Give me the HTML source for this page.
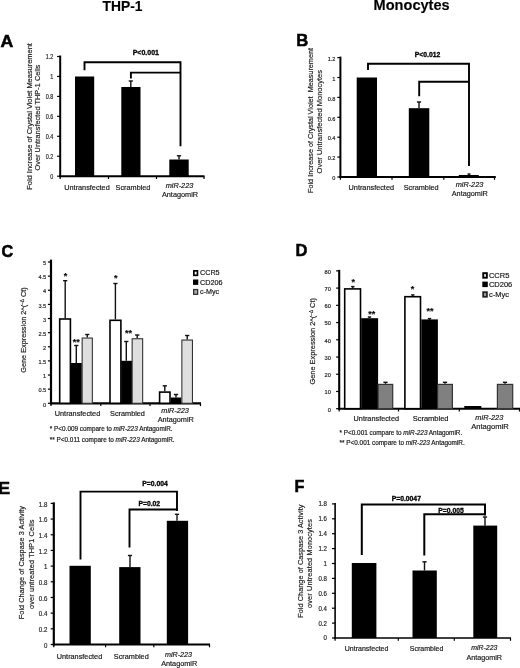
<!DOCTYPE html>
<html lang="en"><head><meta charset="utf-8"><title>Figure</title>
<style>
html,body{margin:0;padding:0;background:#fff;}
body{width:520px;height:668px;overflow:hidden;}
svg{display:block;font-family:"Liberation Sans", Arial, Helvetica, sans-serif;}
svg text{font-family:"Liberation Sans", Arial, Helvetica, sans-serif;stroke:#222;stroke-width:0.18px;}
</style></head><body>
<svg width="520" height="668" viewBox="0 0 520 668">
<rect x="0" y="0" width="520" height="668" fill="#ffffff"/>
<text x="122.5" y="11.2" font-size="13.8" text-anchor="middle" font-weight="bold" font-style="normal" fill="#000">THP-1</text>
<text transform="translate(411.6,10.2) scale(1.035,1)" font-size="14.1" text-anchor="middle" font-weight="bold" font-style="normal" fill="#000">Monocytes</text>
<text transform="translate(0.6,46.8) scale(1.03,1)" font-size="17.2" text-anchor="start" font-weight="bold" font-style="normal" fill="#000" style="stroke:#000;stroke-width:0.55px">A</text>
<text transform="translate(296.2,45.6) scale(0.98,1)" font-size="17" text-anchor="start" font-weight="bold" font-style="normal" fill="#000" style="stroke:#000;stroke-width:0.55px">B</text>
<text transform="translate(1.5,256.5) scale(0.95,1)" font-size="17" text-anchor="start" font-weight="bold" font-style="normal" fill="#000" style="stroke:#000;stroke-width:0.55px">C</text>
<text transform="translate(295.4,256.2) scale(0.96,1)" font-size="17.2" text-anchor="start" font-weight="bold" font-style="normal" fill="#000" style="stroke:#000;stroke-width:0.55px">D</text>
<text transform="translate(-1.9,494.2) scale(1.04,1)" font-size="17.4" text-anchor="start" font-weight="bold" font-style="normal" fill="#000" style="stroke:#000;stroke-width:0.55px">E</text>
<text transform="translate(294.4,492) scale(0.95,1)" font-size="17" text-anchor="start" font-weight="bold" font-style="normal" fill="#000" style="stroke:#000;stroke-width:0.55px">F</text>
<line x1="60.2" y1="55.5" x2="60.2" y2="177.2" stroke="#000" stroke-width="2.0" stroke-linecap="butt"/>
<line x1="59.2" y1="176.2" x2="204.5" y2="176.2" stroke="#000" stroke-width="2.0" stroke-linecap="butt"/>
<line x1="57.1" y1="176.2" x2="60.2" y2="176.2" stroke="#000" stroke-width="1.2" stroke-linecap="butt"/>
<text transform="translate(53.2,179.004) scale(0.85,1)" font-size="6.4" text-anchor="end" font-weight="normal" font-style="normal" fill="#222">0</text>
<line x1="57.1" y1="156.25" x2="60.2" y2="156.25" stroke="#000" stroke-width="1.2" stroke-linecap="butt"/>
<text transform="translate(53.2,159.054) scale(0.85,1)" font-size="6.4" text-anchor="end" font-weight="normal" font-style="normal" fill="#222">0.2</text>
<line x1="57.1" y1="136.29999999999998" x2="60.2" y2="136.29999999999998" stroke="#000" stroke-width="1.2" stroke-linecap="butt"/>
<text transform="translate(53.2,139.10399999999998) scale(0.85,1)" font-size="6.4" text-anchor="end" font-weight="normal" font-style="normal" fill="#222">0.4</text>
<line x1="57.1" y1="116.35" x2="60.2" y2="116.35" stroke="#000" stroke-width="1.2" stroke-linecap="butt"/>
<text transform="translate(53.2,119.154) scale(0.85,1)" font-size="6.4" text-anchor="end" font-weight="normal" font-style="normal" fill="#222">0.6</text>
<line x1="57.1" y1="96.39999999999999" x2="60.2" y2="96.39999999999999" stroke="#000" stroke-width="1.2" stroke-linecap="butt"/>
<text transform="translate(53.2,99.204) scale(0.85,1)" font-size="6.4" text-anchor="end" font-weight="normal" font-style="normal" fill="#222">0.8</text>
<line x1="57.1" y1="76.44999999999999" x2="60.2" y2="76.44999999999999" stroke="#000" stroke-width="1.2" stroke-linecap="butt"/>
<text transform="translate(53.2,79.25399999999999) scale(0.85,1)" font-size="6.4" text-anchor="end" font-weight="normal" font-style="normal" fill="#222">1</text>
<line x1="57.1" y1="56.5" x2="60.2" y2="56.5" stroke="#000" stroke-width="1.2" stroke-linecap="butt"/>
<text transform="translate(53.2,59.304) scale(0.85,1)" font-size="6.4" text-anchor="end" font-weight="normal" font-style="normal" fill="#222">1.2</text>
<line x1="60.2" y1="176.2" x2="60.2" y2="179.0" stroke="#000" stroke-width="1.2" stroke-linecap="butt"/>
<line x1="108.5" y1="176.2" x2="108.5" y2="179.0" stroke="#000" stroke-width="1.2" stroke-linecap="butt"/>
<line x1="156.5" y1="176.2" x2="156.5" y2="179.0" stroke="#000" stroke-width="1.2" stroke-linecap="butt"/>
<line x1="204" y1="176.2" x2="204" y2="179.0" stroke="#000" stroke-width="1.2" stroke-linecap="butt"/>
<rect x="75" y="76.5" width="19.2" height="99.69999999999999" fill="#000"/>
<rect x="121.3" y="87" width="19.2" height="89.19999999999999" fill="#000"/>
<rect x="169.3" y="159.5" width="19.4" height="16.69999999999999" fill="#000"/>
<line x1="130.8" y1="81" x2="130.8" y2="87" stroke="#111" stroke-width="1.4" stroke-linecap="butt"/>
<line x1="128.70000000000002" y1="81" x2="132.9" y2="81" stroke="#111" stroke-width="1.4" stroke-linecap="butt"/>
<line x1="179" y1="155.8" x2="179" y2="159.5" stroke="#111" stroke-width="1.4" stroke-linecap="butt"/>
<line x1="176.9" y1="155.8" x2="181.1" y2="155.8" stroke="#111" stroke-width="1.4" stroke-linecap="butt"/>
<path d="M84.5,70.3 V62.3 H180.5 V146.3" fill="none" stroke="#000" stroke-width="1.9" stroke-linejoin="miter"/>
<path d="M130.9,78.5 V72.6 H180.5" fill="none" stroke="#000" stroke-width="1.9" stroke-linejoin="miter"/>
<text x="145.8" y="55.3" font-size="7" text-anchor="middle" font-weight="bold" font-style="normal" fill="#000" style="stroke:#000;stroke-width:0.3px">P&lt;0.001</text>
<text x="87" y="190" font-size="7.3" text-anchor="middle" font-weight="normal" font-style="normal" fill="#111">Untransfected</text>
<text x="133" y="190" font-size="7.3" text-anchor="middle" font-weight="normal" font-style="normal" fill="#111">Scrambled</text>
<text x="179.5" y="188" font-size="7.3" text-anchor="middle" font-weight="normal" font-style="italic" fill="#111">miR-223</text>
<text x="180" y="196.8" font-size="7.3" text-anchor="middle" font-weight="normal" font-style="normal" fill="#111">AntagomiR</text>
<text transform="translate(31.8,116.4) rotate(-90)" font-size="7.45" text-anchor="middle" fill="#222">Fold Increase of Crystal Violet Measurement</text>
<text transform="translate(40.4,117.6) rotate(-90)" font-size="7.4" text-anchor="middle" fill="#222">Over Untransfected THP-1 Cells</text>
<line x1="340.4" y1="56.60000000000001" x2="340.4" y2="178.0" stroke="#000" stroke-width="2.0" stroke-linecap="butt"/>
<line x1="339.4" y1="177" x2="495.8" y2="177" stroke="#000" stroke-width="2.0" stroke-linecap="butt"/>
<line x1="337.29999999999995" y1="177.0" x2="340.4" y2="177.0" stroke="#000" stroke-width="1.2" stroke-linecap="butt"/>
<text transform="translate(335.4,180.232) scale(0.9,1)" font-size="6.2" text-anchor="end" font-weight="normal" font-style="normal" fill="#222">0</text>
<line x1="337.29999999999995" y1="157.1" x2="340.4" y2="157.1" stroke="#000" stroke-width="1.2" stroke-linecap="butt"/>
<text transform="translate(335.4,160.332) scale(0.9,1)" font-size="6.2" text-anchor="end" font-weight="normal" font-style="normal" fill="#222">0.2</text>
<line x1="337.29999999999995" y1="137.2" x2="340.4" y2="137.2" stroke="#000" stroke-width="1.2" stroke-linecap="butt"/>
<text transform="translate(335.4,140.432) scale(0.9,1)" font-size="6.2" text-anchor="end" font-weight="normal" font-style="normal" fill="#222">0.4</text>
<line x1="337.29999999999995" y1="117.30000000000001" x2="340.4" y2="117.30000000000001" stroke="#000" stroke-width="1.2" stroke-linecap="butt"/>
<text transform="translate(335.4,120.53200000000001) scale(0.9,1)" font-size="6.2" text-anchor="end" font-weight="normal" font-style="normal" fill="#222">0.6</text>
<line x1="337.29999999999995" y1="97.4" x2="340.4" y2="97.4" stroke="#000" stroke-width="1.2" stroke-linecap="butt"/>
<text transform="translate(335.4,100.632) scale(0.9,1)" font-size="6.2" text-anchor="end" font-weight="normal" font-style="normal" fill="#222">0.8</text>
<line x1="337.29999999999995" y1="77.5" x2="340.4" y2="77.5" stroke="#000" stroke-width="1.2" stroke-linecap="butt"/>
<text transform="translate(335.4,80.732) scale(0.9,1)" font-size="6.2" text-anchor="end" font-weight="normal" font-style="normal" fill="#222">1</text>
<line x1="337.29999999999995" y1="57.60000000000001" x2="340.4" y2="57.60000000000001" stroke="#000" stroke-width="1.2" stroke-linecap="butt"/>
<text transform="translate(335.4,60.83200000000001) scale(0.9,1)" font-size="6.2" text-anchor="end" font-weight="normal" font-style="normal" fill="#222">1.2</text>
<line x1="340.4" y1="177" x2="340.4" y2="179.8" stroke="#000" stroke-width="1.2" stroke-linecap="butt"/>
<line x1="392" y1="177" x2="392" y2="179.8" stroke="#000" stroke-width="1.2" stroke-linecap="butt"/>
<line x1="443.8" y1="177" x2="443.8" y2="179.8" stroke="#000" stroke-width="1.2" stroke-linecap="butt"/>
<line x1="494.5" y1="177" x2="494.5" y2="179.8" stroke="#000" stroke-width="1.2" stroke-linecap="butt"/>
<rect x="356.7" y="77.5" width="20.3" height="99.5" fill="#000"/>
<rect x="408.8" y="108.2" width="20.5" height="68.8" fill="#000"/>
<rect x="458.8" y="175" width="20" height="2" fill="#000"/>
<line x1="419" y1="102" x2="419" y2="108.2" stroke="#111" stroke-width="1.4" stroke-linecap="butt"/>
<line x1="416.9" y1="102" x2="421.1" y2="102" stroke="#111" stroke-width="1.4" stroke-linecap="butt"/>
<line x1="469" y1="174" x2="469" y2="175" stroke="#111" stroke-width="1.4" stroke-linecap="butt"/>
<line x1="467.5" y1="174" x2="470.5" y2="174" stroke="#111" stroke-width="1.4" stroke-linecap="butt"/>
<path d="M368,70 V63.7 H469 V166" fill="none" stroke="#000" stroke-width="1.9" stroke-linejoin="miter"/>
<path d="M419.2,96.3 V81.8 H469" fill="none" stroke="#000" stroke-width="1.9" stroke-linejoin="miter"/>
<text x="427.5" y="56.9" font-size="6.8" text-anchor="middle" font-weight="bold" font-style="normal" fill="#000" style="stroke:#000;stroke-width:0.3px">P&lt;0.012</text>
<text x="371.3" y="190" font-size="7.3" text-anchor="middle" font-weight="normal" font-style="normal" fill="#111">Untransfected</text>
<text x="421.2" y="190" font-size="7.3" text-anchor="middle" font-weight="normal" font-style="normal" fill="#111">Scrambled</text>
<text x="469.5" y="187.3" font-size="7.3" text-anchor="middle" font-weight="normal" font-style="italic" fill="#111">miR-223</text>
<text x="469.8" y="196.2" font-size="7.3" text-anchor="middle" font-weight="normal" font-style="normal" fill="#111">AntagomiR</text>
<text transform="translate(313.2,120.5) rotate(-90)" font-size="7.25" text-anchor="middle" fill="#222">Fold Increase of Crystal Violet&#160;&#160;Measurement</text>
<text transform="translate(322.1,121.7) rotate(-90)" font-size="7.5" text-anchor="middle" fill="#222">Over Untransfected Monocytes</text>
<line x1="51.0" y1="259.6" x2="51.0" y2="404.40000000000003" stroke="#000" stroke-width="2.2" stroke-linecap="butt"/>
<line x1="50.0" y1="403.3" x2="201" y2="403.3" stroke="#000" stroke-width="2.2" stroke-linecap="butt"/>
<line x1="47.9" y1="403.3" x2="51.0" y2="403.3" stroke="#000" stroke-width="1.2" stroke-linecap="butt"/>
<text transform="translate(46.2,406.53200000000004) scale(0.9,1)" font-size="6.2" text-anchor="end" font-weight="normal" font-style="normal" fill="#222">0</text>
<line x1="47.9" y1="389.17" x2="51.0" y2="389.17" stroke="#000" stroke-width="1.2" stroke-linecap="butt"/>
<text transform="translate(46.2,392.40200000000004) scale(0.9,1)" font-size="6.2" text-anchor="end" font-weight="normal" font-style="normal" fill="#222">0.5</text>
<line x1="47.9" y1="375.04" x2="51.0" y2="375.04" stroke="#000" stroke-width="1.2" stroke-linecap="butt"/>
<text transform="translate(46.2,378.27200000000005) scale(0.9,1)" font-size="6.2" text-anchor="end" font-weight="normal" font-style="normal" fill="#222">1</text>
<line x1="47.9" y1="360.91" x2="51.0" y2="360.91" stroke="#000" stroke-width="1.2" stroke-linecap="butt"/>
<text transform="translate(46.2,364.14200000000005) scale(0.9,1)" font-size="6.2" text-anchor="end" font-weight="normal" font-style="normal" fill="#222">1.5</text>
<line x1="47.9" y1="346.78000000000003" x2="51.0" y2="346.78000000000003" stroke="#000" stroke-width="1.2" stroke-linecap="butt"/>
<text transform="translate(46.2,350.01200000000006) scale(0.9,1)" font-size="6.2" text-anchor="end" font-weight="normal" font-style="normal" fill="#222">2</text>
<line x1="47.9" y1="332.65" x2="51.0" y2="332.65" stroke="#000" stroke-width="1.2" stroke-linecap="butt"/>
<text transform="translate(46.2,335.882) scale(0.9,1)" font-size="6.2" text-anchor="end" font-weight="normal" font-style="normal" fill="#222">2.5</text>
<line x1="47.9" y1="318.52" x2="51.0" y2="318.52" stroke="#000" stroke-width="1.2" stroke-linecap="butt"/>
<text transform="translate(46.2,321.752) scale(0.9,1)" font-size="6.2" text-anchor="end" font-weight="normal" font-style="normal" fill="#222">3</text>
<line x1="47.9" y1="304.39" x2="51.0" y2="304.39" stroke="#000" stroke-width="1.2" stroke-linecap="butt"/>
<text transform="translate(46.2,307.622) scale(0.9,1)" font-size="6.2" text-anchor="end" font-weight="normal" font-style="normal" fill="#222">3.5</text>
<line x1="47.9" y1="290.26" x2="51.0" y2="290.26" stroke="#000" stroke-width="1.2" stroke-linecap="butt"/>
<text transform="translate(46.2,293.492) scale(0.9,1)" font-size="6.2" text-anchor="end" font-weight="normal" font-style="normal" fill="#222">4</text>
<line x1="47.9" y1="276.13" x2="51.0" y2="276.13" stroke="#000" stroke-width="1.2" stroke-linecap="butt"/>
<text transform="translate(46.2,279.362) scale(0.9,1)" font-size="6.2" text-anchor="end" font-weight="normal" font-style="normal" fill="#222">4.5</text>
<line x1="47.9" y1="262.0" x2="51.0" y2="262.0" stroke="#000" stroke-width="1.2" stroke-linecap="butt"/>
<text transform="translate(46.2,265.232) scale(0.9,1)" font-size="6.2" text-anchor="end" font-weight="normal" font-style="normal" fill="#222">5</text>
<line x1="51.0" y1="403.3" x2="51.0" y2="406.1" stroke="#000" stroke-width="1.2" stroke-linecap="butt"/>
<line x1="100.8" y1="403.3" x2="100.8" y2="406.1" stroke="#000" stroke-width="1.2" stroke-linecap="butt"/>
<line x1="150" y1="403.3" x2="150" y2="406.1" stroke="#000" stroke-width="1.2" stroke-linecap="butt"/>
<line x1="200.5" y1="403.3" x2="200.5" y2="406.1" stroke="#000" stroke-width="1.2" stroke-linecap="butt"/>
<rect x="59.699999999999996" y="319.0" width="10.700000000000001" height="84.30000000000003" fill="#fff" stroke="#000" stroke-width="1.6"/>
<line x1="65.2" y1="280.7" x2="65.2" y2="318.2" stroke="#111" stroke-width="1.4" stroke-linecap="butt"/>
<line x1="63.1" y1="280.7" x2="67.3" y2="280.7" stroke="#111" stroke-width="1.4" stroke-linecap="butt"/>
<rect x="70.4" y="363" width="11.4" height="40.30000000000001" fill="#000"/>
<line x1="76.3" y1="345.5" x2="76.3" y2="363" stroke="#111" stroke-width="1.4" stroke-linecap="butt"/>
<line x1="74.2" y1="345.5" x2="78.39999999999999" y2="345.5" stroke="#111" stroke-width="1.4" stroke-linecap="butt"/>
<rect x="82.14999999999999" y="338.05" width="10.200000000000001" height="65.25000000000001" fill="#dedede" stroke="#333" stroke-width="1.1"/>
<line x1="87.3" y1="334.5" x2="87.3" y2="337.5" stroke="#111" stroke-width="1.4" stroke-linecap="butt"/>
<line x1="85.2" y1="334.5" x2="89.39999999999999" y2="334.5" stroke="#111" stroke-width="1.4" stroke-linecap="butt"/>
<rect x="110.0" y="320.3" width="10.9" height="83.00000000000001" fill="#fff" stroke="#000" stroke-width="1.6"/>
<line x1="115.4" y1="283.5" x2="115.4" y2="319.5" stroke="#111" stroke-width="1.4" stroke-linecap="butt"/>
<line x1="113.30000000000001" y1="283.5" x2="117.5" y2="283.5" stroke="#111" stroke-width="1.4" stroke-linecap="butt"/>
<rect x="121.2" y="360.8" width="11" height="42.5" fill="#000"/>
<line x1="126.3" y1="341.5" x2="126.3" y2="360.8" stroke="#111" stroke-width="1.4" stroke-linecap="butt"/>
<line x1="124.2" y1="341.5" x2="128.4" y2="341.5" stroke="#111" stroke-width="1.4" stroke-linecap="butt"/>
<rect x="132.15" y="338.75" width="10.5" height="64.55000000000003" fill="#dedede" stroke="#333" stroke-width="1.1"/>
<line x1="137.2" y1="335" x2="137.2" y2="338.2" stroke="#111" stroke-width="1.4" stroke-linecap="butt"/>
<line x1="135.1" y1="335" x2="139.29999999999998" y2="335" stroke="#111" stroke-width="1.4" stroke-linecap="butt"/>
<rect x="159.60000000000002" y="392.1" width="10.4" height="11.2" fill="#fff" stroke="#000" stroke-width="1.6"/>
<line x1="164.8" y1="385.8" x2="164.8" y2="391.3" stroke="#111" stroke-width="1.4" stroke-linecap="butt"/>
<line x1="162.70000000000002" y1="385.8" x2="166.9" y2="385.8" stroke="#111" stroke-width="1.4" stroke-linecap="butt"/>
<rect x="170.8" y="397.5" width="10.5" height="5.800000000000011" fill="#000"/>
<line x1="176" y1="394.5" x2="176" y2="397.5" stroke="#111" stroke-width="1.4" stroke-linecap="butt"/>
<line x1="173.9" y1="394.5" x2="178.1" y2="394.5" stroke="#111" stroke-width="1.4" stroke-linecap="butt"/>
<rect x="181.85000000000002" y="340.05" width="10.6" height="63.250000000000014" fill="#dedede" stroke="#333" stroke-width="1.1"/>
<line x1="187.2" y1="335.5" x2="187.2" y2="339.5" stroke="#111" stroke-width="1.4" stroke-linecap="butt"/>
<line x1="185.1" y1="335.5" x2="189.29999999999998" y2="335.5" stroke="#111" stroke-width="1.4" stroke-linecap="butt"/>
<text x="65.6" y="279" font-size="9" text-anchor="middle" font-weight="bold" font-style="normal" fill="#000">*</text>
<text x="115.7" y="281" font-size="9" text-anchor="middle" font-weight="bold" font-style="normal" fill="#000">*</text>
<text x="76.3" y="344.6" font-size="9" text-anchor="middle" font-weight="bold" font-style="normal" fill="#000">**</text>
<text x="128.5" y="336" font-size="9" text-anchor="middle" font-weight="bold" font-style="normal" fill="#000">**</text>
<rect x="193.85" y="270.85" width="3.5999999999999996" height="4.450000000000012" fill="#fff" stroke="#000" stroke-width="1.7"/>
<text x="200" y="275.2" font-size="7.2" text-anchor="start" font-weight="normal" font-style="normal" fill="#111">CCR5</text>
<rect x="193" y="279.5" width="5.3" height="5.4" fill="#000"/>
<text x="200" y="284.9" font-size="7.2" text-anchor="start" font-weight="normal" font-style="normal" fill="#111">CD206</text>
<rect x="193.65" y="289.54999999999995" width="4.0" height="4.750000000000034" fill="#aaa" stroke="#333" stroke-width="1.3"/>
<text x="200" y="294.2" font-size="7.2" text-anchor="start" font-weight="normal" font-style="normal" fill="#111">c-Myc</text>
<text x="77.5" y="415.5" font-size="7.3" text-anchor="middle" font-weight="normal" font-style="normal" fill="#111">Untransfected</text>
<text x="127.5" y="415.5" font-size="7.3" text-anchor="middle" font-weight="normal" font-style="normal" fill="#111">Scrambled</text>
<text x="175.1" y="412.6" font-size="7.3" text-anchor="middle" font-weight="normal" font-style="italic" fill="#111">miR-223</text>
<text x="175.8" y="422.4" font-size="7.3" text-anchor="middle" font-weight="normal" font-style="normal" fill="#111">AntagomiR</text>
<text x="49.8" y="431.2" font-size="6.4" fill="#111">* P&lt;0.009 compare to <tspan font-style="italic">miR-223</tspan> AntagomiR.</text>
<text x="49.8" y="442.1" font-size="6.4" fill="#111">** P&lt;0.011 compare to <tspan font-style="italic">miR-223</tspan> AntagomiR.</text>
<text transform="translate(25.8,330) rotate(-90)" font-size="7.3" text-anchor="middle" fill="#222">Gene Expression 2^(<tspan font-size="4.6" dy="-2.2">−Δ</tspan><tspan dy="2.2"> Ct)</tspan></text>
<line x1="339.2" y1="269.86" x2="339.2" y2="409.75" stroke="#000" stroke-width="2.1" stroke-linecap="butt"/>
<line x1="338.2" y1="408.7" x2="520" y2="408.7" stroke="#000" stroke-width="2.1" stroke-linecap="butt"/>
<line x1="336.09999999999997" y1="408.7" x2="339.2" y2="408.7" stroke="#000" stroke-width="1.2" stroke-linecap="butt"/>
<text transform="translate(330.9,411.53200000000004) scale(0.92,1)" font-size="6.2" text-anchor="end" font-weight="normal" font-style="normal" fill="#222">0</text>
<line x1="336.09999999999997" y1="391.46999999999997" x2="339.2" y2="391.46999999999997" stroke="#000" stroke-width="1.2" stroke-linecap="butt"/>
<text transform="translate(330.9,394.302) scale(0.92,1)" font-size="6.2" text-anchor="end" font-weight="normal" font-style="normal" fill="#222">10</text>
<line x1="336.09999999999997" y1="374.24" x2="339.2" y2="374.24" stroke="#000" stroke-width="1.2" stroke-linecap="butt"/>
<text transform="translate(330.9,377.07200000000006) scale(0.92,1)" font-size="6.2" text-anchor="end" font-weight="normal" font-style="normal" fill="#222">20</text>
<line x1="336.09999999999997" y1="357.01" x2="339.2" y2="357.01" stroke="#000" stroke-width="1.2" stroke-linecap="butt"/>
<text transform="translate(330.9,359.84200000000004) scale(0.92,1)" font-size="6.2" text-anchor="end" font-weight="normal" font-style="normal" fill="#222">30</text>
<line x1="336.09999999999997" y1="339.78" x2="339.2" y2="339.78" stroke="#000" stroke-width="1.2" stroke-linecap="butt"/>
<text transform="translate(330.9,342.612) scale(0.92,1)" font-size="6.2" text-anchor="end" font-weight="normal" font-style="normal" fill="#222">40</text>
<line x1="336.09999999999997" y1="322.54999999999995" x2="339.2" y2="322.54999999999995" stroke="#000" stroke-width="1.2" stroke-linecap="butt"/>
<text transform="translate(330.9,325.382) scale(0.92,1)" font-size="6.2" text-anchor="end" font-weight="normal" font-style="normal" fill="#222">50</text>
<line x1="336.09999999999997" y1="305.32" x2="339.2" y2="305.32" stroke="#000" stroke-width="1.2" stroke-linecap="butt"/>
<text transform="translate(330.9,308.15200000000004) scale(0.92,1)" font-size="6.2" text-anchor="end" font-weight="normal" font-style="normal" fill="#222">60</text>
<line x1="336.09999999999997" y1="288.09" x2="339.2" y2="288.09" stroke="#000" stroke-width="1.2" stroke-linecap="butt"/>
<text transform="translate(330.9,290.922) scale(0.92,1)" font-size="6.2" text-anchor="end" font-weight="normal" font-style="normal" fill="#222">70</text>
<line x1="336.09999999999997" y1="270.86" x2="339.2" y2="270.86" stroke="#000" stroke-width="1.2" stroke-linecap="butt"/>
<text transform="translate(330.9,273.69200000000006) scale(0.92,1)" font-size="6.2" text-anchor="end" font-weight="normal" font-style="normal" fill="#222">80</text>
<line x1="339.2" y1="408.7" x2="339.2" y2="411.5" stroke="#000" stroke-width="1.2" stroke-linecap="butt"/>
<line x1="398.5" y1="408.7" x2="398.5" y2="411.5" stroke="#000" stroke-width="1.2" stroke-linecap="butt"/>
<line x1="459.3" y1="408.7" x2="459.3" y2="411.5" stroke="#000" stroke-width="1.2" stroke-linecap="butt"/>
<line x1="519.5" y1="408.7" x2="519.5" y2="411.5" stroke="#000" stroke-width="1.2" stroke-linecap="butt"/>
<rect x="344.7" y="288.90000000000003" width="15.799999999999999" height="119.79999999999997" fill="#fff" stroke="#000" stroke-width="1.6"/>
<line x1="352.8" y1="286.6" x2="352.8" y2="288.3" stroke="#111" stroke-width="1.4" stroke-linecap="butt"/>
<line x1="351.1" y1="286.6" x2="354.5" y2="286.6" stroke="#111" stroke-width="1.4" stroke-linecap="butt"/>
<rect x="361.2" y="318.2" width="16.9" height="90.5" fill="#000"/>
<line x1="369.5" y1="317" x2="369.5" y2="318.3" stroke="#111" stroke-width="1.4" stroke-linecap="butt"/>
<line x1="367.8" y1="317" x2="371.2" y2="317" stroke="#111" stroke-width="1.4" stroke-linecap="butt"/>
<rect x="378.1" y="384.40000000000003" width="14.600000000000001" height="24.299999999999976" fill="#808080" stroke="#333" stroke-width="1.2"/>
<line x1="385.5" y1="382.3" x2="385.5" y2="383.8" stroke="#111" stroke-width="1.4" stroke-linecap="butt"/>
<line x1="383.4" y1="382.3" x2="387.6" y2="382.3" stroke="#111" stroke-width="1.4" stroke-linecap="butt"/>
<rect x="404.90000000000003" y="296.7" width="15.6" height="112.00000000000001" fill="#fff" stroke="#000" stroke-width="1.6"/>
<line x1="412.8" y1="294.9" x2="412.8" y2="296.3" stroke="#111" stroke-width="1.4" stroke-linecap="butt"/>
<line x1="411.1" y1="294.9" x2="414.5" y2="294.9" stroke="#111" stroke-width="1.4" stroke-linecap="butt"/>
<rect x="421.3" y="319.4" width="16.6" height="89.30000000000001" fill="#000"/>
<line x1="429.5" y1="318.6" x2="429.5" y2="320" stroke="#111" stroke-width="1.4" stroke-linecap="butt"/>
<line x1="427.8" y1="318.6" x2="431.2" y2="318.6" stroke="#111" stroke-width="1.4" stroke-linecap="butt"/>
<rect x="437.6" y="384.40000000000003" width="14.8" height="24.299999999999976" fill="#808080" stroke="#333" stroke-width="1.2"/>
<line x1="445" y1="382.3" x2="445" y2="383.8" stroke="#111" stroke-width="1.4" stroke-linecap="butt"/>
<line x1="442.9" y1="382.3" x2="447.1" y2="382.3" stroke="#111" stroke-width="1.4" stroke-linecap="butt"/>
<rect x="464.3" y="406" width="17" height="2.6999999999999886" fill="#000"/>
<rect x="497.40000000000003" y="384.40000000000003" width="15.3" height="24.299999999999976" fill="#808080" stroke="#333" stroke-width="1.2"/>
<line x1="505" y1="382.3" x2="505" y2="383.8" stroke="#111" stroke-width="1.4" stroke-linecap="butt"/>
<line x1="502.9" y1="382.3" x2="507.1" y2="382.3" stroke="#111" stroke-width="1.4" stroke-linecap="butt"/>
<text x="353.3" y="284.6" font-size="9" text-anchor="middle" font-weight="bold" font-style="normal" fill="#000">*</text>
<text x="412.4" y="292.4" font-size="9" text-anchor="middle" font-weight="bold" font-style="normal" fill="#000">*</text>
<text x="371.8" y="317" font-size="9" text-anchor="middle" font-weight="bold" font-style="normal" fill="#000">**</text>
<text x="430" y="313.6" font-size="9" text-anchor="middle" font-weight="bold" font-style="normal" fill="#000">**</text>
<rect x="483.25" y="273.15" width="3.6" height="4.55" fill="#fff" stroke="#000" stroke-width="1.9"/>
<text x="488.9" y="277.6" font-size="7.5" text-anchor="start" font-weight="normal" font-style="normal" fill="#111">CCR5</text>
<rect x="482.3" y="281.6" width="5.5" height="5.5" fill="#000"/>
<text x="488.9" y="287" font-size="7.5" text-anchor="start" font-weight="normal" font-style="normal" fill="#111">CD206</text>
<rect x="483.15000000000003" y="292.15000000000003" width="3.8" height="4.65" fill="#999" stroke="#222" stroke-width="1.7"/>
<text x="488.9" y="296.7" font-size="7.5" text-anchor="start" font-weight="normal" font-style="normal" fill="#111">c-Myc</text>
<text x="376.3" y="420.9" font-size="7.3" text-anchor="middle" font-weight="normal" font-style="normal" fill="#111">Untransfected</text>
<text x="430.6" y="420.9" font-size="7.5" text-anchor="middle" font-weight="normal" font-style="normal" fill="#111">Scrambled</text>
<text x="489.3" y="419.6" font-size="7.4" text-anchor="middle" font-weight="normal" font-style="italic" fill="#111">miR-223</text>
<text x="490" y="429" font-size="7.6" text-anchor="middle" font-weight="normal" font-style="normal" fill="#111">AntagomiR</text>
<text x="339.5" y="434.6" font-size="6.4" fill="#111">* P&lt;0.001 compare to <tspan font-style="italic">miR-223</tspan> AntagomiR.</text>
<text x="339.5" y="445.2" font-size="6.4" fill="#111">** P&lt;0.001 compare to <tspan font-style="italic">miR-223</tspan> AntagomiR.</text>
<text transform="translate(315,341.3) rotate(-90)" font-size="7.4" text-anchor="middle" fill="#222">Gene Expression 2^(<tspan font-size="4.6" dy="-2.2">−Δ</tspan><tspan dy="2.2"> Ct)</tspan></text>
<line x1="53.8" y1="502.38" x2="53.8" y2="645.6" stroke="#000" stroke-width="2.2" stroke-linecap="butt"/>
<line x1="52.8" y1="644.5" x2="210" y2="644.5" stroke="#000" stroke-width="2.2" stroke-linecap="butt"/>
<line x1="50.699999999999996" y1="644.5" x2="53.8" y2="644.5" stroke="#000" stroke-width="1.2" stroke-linecap="butt"/>
<text transform="translate(47.3,647.7479999999999) scale(0.9,1)" font-size="6.8" text-anchor="end" font-weight="normal" font-style="normal" fill="#222">0</text>
<line x1="50.699999999999996" y1="628.82" x2="53.8" y2="628.82" stroke="#000" stroke-width="1.2" stroke-linecap="butt"/>
<text transform="translate(47.3,632.068) scale(0.9,1)" font-size="6.8" text-anchor="end" font-weight="normal" font-style="normal" fill="#222">0.2</text>
<line x1="50.699999999999996" y1="613.14" x2="53.8" y2="613.14" stroke="#000" stroke-width="1.2" stroke-linecap="butt"/>
<text transform="translate(47.3,616.3879999999999) scale(0.9,1)" font-size="6.8" text-anchor="end" font-weight="normal" font-style="normal" fill="#222">0.4</text>
<line x1="50.699999999999996" y1="597.46" x2="53.8" y2="597.46" stroke="#000" stroke-width="1.2" stroke-linecap="butt"/>
<text transform="translate(47.3,600.708) scale(0.9,1)" font-size="6.8" text-anchor="end" font-weight="normal" font-style="normal" fill="#222">0.6</text>
<line x1="50.699999999999996" y1="581.78" x2="53.8" y2="581.78" stroke="#000" stroke-width="1.2" stroke-linecap="butt"/>
<text transform="translate(47.3,585.0279999999999) scale(0.9,1)" font-size="6.8" text-anchor="end" font-weight="normal" font-style="normal" fill="#222">0.8</text>
<line x1="50.699999999999996" y1="566.1" x2="53.8" y2="566.1" stroke="#000" stroke-width="1.2" stroke-linecap="butt"/>
<text transform="translate(47.3,569.348) scale(0.9,1)" font-size="6.8" text-anchor="end" font-weight="normal" font-style="normal" fill="#222">1</text>
<line x1="50.699999999999996" y1="550.42" x2="53.8" y2="550.42" stroke="#000" stroke-width="1.2" stroke-linecap="butt"/>
<text transform="translate(47.3,553.6679999999999) scale(0.9,1)" font-size="6.8" text-anchor="end" font-weight="normal" font-style="normal" fill="#222">1.2</text>
<line x1="50.699999999999996" y1="534.74" x2="53.8" y2="534.74" stroke="#000" stroke-width="1.2" stroke-linecap="butt"/>
<text transform="translate(47.3,537.9879999999999) scale(0.9,1)" font-size="6.8" text-anchor="end" font-weight="normal" font-style="normal" fill="#222">1.4</text>
<line x1="50.699999999999996" y1="519.06" x2="53.8" y2="519.06" stroke="#000" stroke-width="1.2" stroke-linecap="butt"/>
<text transform="translate(47.3,522.3079999999999) scale(0.9,1)" font-size="6.8" text-anchor="end" font-weight="normal" font-style="normal" fill="#222">1.6</text>
<line x1="50.699999999999996" y1="503.38" x2="53.8" y2="503.38" stroke="#000" stroke-width="1.2" stroke-linecap="butt"/>
<text transform="translate(47.3,506.628) scale(0.9,1)" font-size="6.8" text-anchor="end" font-weight="normal" font-style="normal" fill="#222">1.8</text>
<line x1="53.8" y1="644.5" x2="53.8" y2="647.3" stroke="#000" stroke-width="1.2" stroke-linecap="butt"/>
<line x1="105.6" y1="644.5" x2="105.6" y2="647.3" stroke="#000" stroke-width="1.2" stroke-linecap="butt"/>
<line x1="153.8" y1="644.5" x2="153.8" y2="647.3" stroke="#000" stroke-width="1.2" stroke-linecap="butt"/>
<line x1="209.5" y1="644.5" x2="209.5" y2="647.3" stroke="#000" stroke-width="1.2" stroke-linecap="butt"/>
<rect x="69.5" y="565.8" width="21.3" height="78.70000000000005" fill="#000"/>
<rect x="119.2" y="567.1" width="21.3" height="77.39999999999998" fill="#000"/>
<rect x="166.8" y="520.8" width="21.3" height="123.70000000000005" fill="#000"/>
<line x1="130" y1="555.5" x2="130" y2="567.5" stroke="#111" stroke-width="1.4" stroke-linecap="butt"/>
<line x1="127.9" y1="555.5" x2="132.1" y2="555.5" stroke="#111" stroke-width="1.4" stroke-linecap="butt"/>
<line x1="177" y1="514.3" x2="177" y2="520.8" stroke="#111" stroke-width="1.4" stroke-linecap="butt"/>
<line x1="174.9" y1="514.3" x2="179.1" y2="514.3" stroke="#111" stroke-width="1.4" stroke-linecap="butt"/>
<path d="M80.5,559.6 V491.6 H177 V511" fill="none" stroke="#000" stroke-width="1.9" stroke-linejoin="miter"/>
<path d="M129.5,547.6 V509.5 H177" fill="none" stroke="#000" stroke-width="1.9" stroke-linejoin="miter"/>
<text x="155" y="486.2" font-size="6.8" text-anchor="middle" font-weight="bold" font-style="normal" fill="#000" style="stroke:#000;stroke-width:0.3px">P=0.004</text>
<text x="149.3" y="505.5" font-size="6.8" text-anchor="middle" font-weight="bold" font-style="normal" fill="#000" style="stroke:#000;stroke-width:0.3px">P=0.02</text>
<text x="79.5" y="658.7" font-size="7.3" text-anchor="middle" font-weight="normal" font-style="normal" fill="#111">Untransfected</text>
<text x="131.3" y="658.7" font-size="7.3" text-anchor="middle" font-weight="normal" font-style="normal" fill="#111">Scrambled</text>
<text x="178.5" y="656.6" font-size="7.1" text-anchor="middle" font-weight="normal" font-style="italic" fill="#111">miR-223</text>
<text x="179.2" y="665.6" font-size="7.3" text-anchor="middle" font-weight="normal" font-style="normal" fill="#111">AntagomiR</text>
<text transform="translate(23.8,562.6) rotate(-90)" font-size="7.3" text-anchor="middle" fill="#222" textLength="113.2" lengthAdjust="spacing">Fold Change of Caspase 3 Activity</text>
<text transform="translate(34,564.3) rotate(-90)" font-size="7.3" text-anchor="middle" fill="#222" textLength="89.5" lengthAdjust="spacing">over untreated THP1 Cells</text>
<line x1="335.1" y1="502.9" x2="335.1" y2="638.8" stroke="#000" stroke-width="1.6" stroke-linecap="butt"/>
<line x1="334.1" y1="638" x2="511" y2="638" stroke="#000" stroke-width="1.6" stroke-linecap="butt"/>
<line x1="332.0" y1="638.0" x2="335.1" y2="638.0" stroke="#000" stroke-width="1.2" stroke-linecap="butt"/>
<text transform="translate(326.90000000000003,640.448) scale(0.9,1)" font-size="6.8" text-anchor="end" font-weight="normal" font-style="normal" fill="#222">0</text>
<line x1="332.0" y1="623.1" x2="335.1" y2="623.1" stroke="#000" stroke-width="1.2" stroke-linecap="butt"/>
<text transform="translate(326.90000000000003,625.548) scale(0.9,1)" font-size="6.8" text-anchor="end" font-weight="normal" font-style="normal" fill="#222">0.2</text>
<line x1="332.0" y1="608.2" x2="335.1" y2="608.2" stroke="#000" stroke-width="1.2" stroke-linecap="butt"/>
<text transform="translate(326.90000000000003,610.648) scale(0.9,1)" font-size="6.8" text-anchor="end" font-weight="normal" font-style="normal" fill="#222">0.4</text>
<line x1="332.0" y1="593.3" x2="335.1" y2="593.3" stroke="#000" stroke-width="1.2" stroke-linecap="butt"/>
<text transform="translate(326.90000000000003,595.7479999999999) scale(0.9,1)" font-size="6.8" text-anchor="end" font-weight="normal" font-style="normal" fill="#222">0.6</text>
<line x1="332.0" y1="578.4" x2="335.1" y2="578.4" stroke="#000" stroke-width="1.2" stroke-linecap="butt"/>
<text transform="translate(326.90000000000003,580.848) scale(0.9,1)" font-size="6.8" text-anchor="end" font-weight="normal" font-style="normal" fill="#222">0.8</text>
<line x1="332.0" y1="563.5" x2="335.1" y2="563.5" stroke="#000" stroke-width="1.2" stroke-linecap="butt"/>
<text transform="translate(326.90000000000003,565.948) scale(0.9,1)" font-size="6.8" text-anchor="end" font-weight="normal" font-style="normal" fill="#222">1</text>
<line x1="332.0" y1="548.6" x2="335.1" y2="548.6" stroke="#000" stroke-width="1.2" stroke-linecap="butt"/>
<text transform="translate(326.90000000000003,551.048) scale(0.9,1)" font-size="6.8" text-anchor="end" font-weight="normal" font-style="normal" fill="#222">1.2</text>
<line x1="332.0" y1="533.7" x2="335.1" y2="533.7" stroke="#000" stroke-width="1.2" stroke-linecap="butt"/>
<text transform="translate(326.90000000000003,536.148) scale(0.9,1)" font-size="6.8" text-anchor="end" font-weight="normal" font-style="normal" fill="#222">1.4</text>
<line x1="332.0" y1="518.8" x2="335.1" y2="518.8" stroke="#000" stroke-width="1.2" stroke-linecap="butt"/>
<text transform="translate(326.90000000000003,521.2479999999999) scale(0.9,1)" font-size="6.8" text-anchor="end" font-weight="normal" font-style="normal" fill="#222">1.6</text>
<line x1="332.0" y1="503.9" x2="335.1" y2="503.9" stroke="#000" stroke-width="1.2" stroke-linecap="butt"/>
<text transform="translate(326.90000000000003,506.34799999999996) scale(0.9,1)" font-size="6.8" text-anchor="end" font-weight="normal" font-style="normal" fill="#222">1.8</text>
<line x1="335.1" y1="638" x2="335.1" y2="640.8" stroke="#000" stroke-width="1.2" stroke-linecap="butt"/>
<line x1="398.3" y1="638" x2="398.3" y2="640.8" stroke="#000" stroke-width="1.2" stroke-linecap="butt"/>
<line x1="454.3" y1="638" x2="454.3" y2="640.8" stroke="#000" stroke-width="1.2" stroke-linecap="butt"/>
<line x1="510.5" y1="638" x2="510.5" y2="640.8" stroke="#000" stroke-width="1.2" stroke-linecap="butt"/>
<rect x="351.8" y="563" width="24.6" height="75" fill="#000"/>
<rect x="412.5" y="570.5" width="24.3" height="67.5" fill="#000"/>
<rect x="473.3" y="525.6" width="23.9" height="112.39999999999998" fill="#000"/>
<line x1="424.5" y1="561.8" x2="424.5" y2="570.5" stroke="#111" stroke-width="1.4" stroke-linecap="butt"/>
<line x1="422.4" y1="561.8" x2="426.6" y2="561.8" stroke="#111" stroke-width="1.4" stroke-linecap="butt"/>
<line x1="485" y1="517" x2="485" y2="525.8" stroke="#111" stroke-width="1.4" stroke-linecap="butt"/>
<line x1="482.9" y1="517" x2="487.1" y2="517" stroke="#111" stroke-width="1.4" stroke-linecap="butt"/>
<path d="M361.8,555 V504.6 H485 V515.5" fill="none" stroke="#000" stroke-width="2.0" stroke-linejoin="miter"/>
<path d="M424.3,555.5 V514.3 H485" fill="none" stroke="#000" stroke-width="2.0" stroke-linejoin="miter"/>
<text x="406.3" y="501.2" font-size="6.8" text-anchor="middle" font-weight="bold" font-style="normal" fill="#000" style="stroke:#000;stroke-width:0.3px">P=0.0047</text>
<text x="451" y="513.1" font-size="6.8" text-anchor="middle" font-weight="bold" font-style="normal" fill="#000" style="stroke:#000;stroke-width:0.3px">P=0.005</text>
<text x="366.6" y="650.9" font-size="7" text-anchor="middle" font-weight="normal" font-style="normal" fill="#111">Untransfected</text>
<text x="426.6" y="651.1" font-size="7" text-anchor="middle" font-weight="normal" font-style="normal" fill="#111">Scrambled</text>
<text x="484.3" y="649.8" font-size="6.9" text-anchor="middle" font-weight="normal" font-style="italic" fill="#111">miR-223</text>
<text x="484.2" y="659.5" font-size="7.2" text-anchor="middle" font-weight="normal" font-style="normal" fill="#111">AntagomiR</text>
<text transform="translate(302.5,561.2) rotate(-90)" font-size="7.3" text-anchor="middle" fill="#222" textLength="113.2" lengthAdjust="spacing">Fold Change of Caspase 3 Activity</text>
<text transform="translate(312.4,563.5) rotate(-90)" font-size="7.3" text-anchor="middle" fill="#222" textLength="88.8" lengthAdjust="spacing">over Untreated Monocytes</text>
</svg>
</body></html>
